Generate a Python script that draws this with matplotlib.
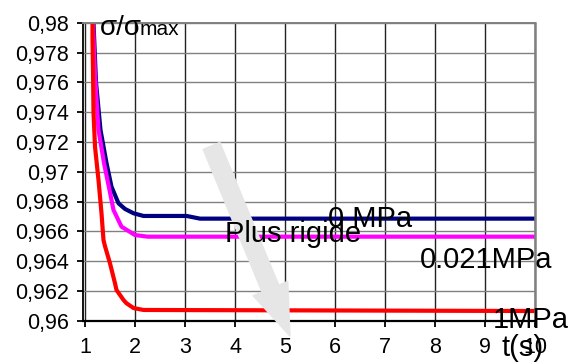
import matplotlib.pyplot as plt

plt.rcParams['font.family'] = ['Liberation Sans', 'DejaVu Sans']

# 0 MPa curve (navy)
t_0 = [1.17, 1.22, 1.31, 1.43, 1.53, 1.67, 1.8, 1.97, 2.17, 3.03, 3.3, 10]
s_0 = [0.9800, 0.9760, 0.9728, 0.97058, 0.96899, 0.96788, 0.9675, 0.96721,
       0.96703, 0.96703, 0.96685, 0.96685]

# 0.021 MPa curve (magenta)
t_021 = [1.16, 1.2, 1.27, 1.38, 1.49, 1.57, 1.73, 2.0, 2.25, 10]
s_021 = [0.9800, 0.9765, 0.9728, 0.97058, 0.96877, 0.96743, 0.96631, 0.96575,
         0.96564, 0.96564]

# 1 MPa curve (red)
t_1 = [1.15, 1.15, 1.16, 1.17, 1.2, 1.27, 1.33, 1.37, 1.4, 1.5, 1.6, 1.63,
       1.77, 1.83, 1.97, 2.17, 10]
s_1 = [0.9800, 0.9790, 0.9768, 0.9740, 0.97168, 0.96944, 0.96721, 0.96541,
       0.9650, 0.96385, 0.96251, 0.96206, 0.96139, 0.96117, 0.96085, 0.96072,
       0.96065]

xticks = [1, 2, 3, 4, 5, 6, 7, 8, 9, 10]
yticks = [0.96, 0.962, 0.964, 0.966, 0.968, 0.97, 0.972, 0.974, 0.976, 0.978, 0.98]
ylabels = ['0,96', '0,962', '0,964', '0,966', '0,968', '0,97', '0,972',
           '0,974', '0,976', '0,978', '0,98']

fig = plt.figure(figsize=(5.77, 3.62), dpi=100)
ax = fig.add_axes([83 / 577, 1 - 320.7 / 362, 452 / 577, 298 / 362])

ax.plot(t_0, s_0, color='#000080', lw=3)
ax.plot(t_021, s_021, color='#ff00ff', lw=3)
ax.plot(t_1, s_1, color='#ff0000', lw=3)

ax.set_xlim(0.96, 10.0)
ax.set_ylim(0.96, 0.98)
ax.set_xticks(xticks)
ax.set_xticklabels([str(v) for v in xticks])
ax.set_yticks(yticks)
ax.set_yticklabels(ylabels)

ax.set_axisbelow(True)
ax.grid(axis='y', color='#808080', lw=1)
ax.grid(axis='x', color='#222222', lw=1)

ax.spines['left'].set_color('black')
ax.spines['left'].set_linewidth(1.3)
ax.spines['bottom'].set_color('black')
ax.spines['bottom'].set_linewidth(1.6)
ax.spines['top'].set_color('#808080')
ax.spines['top'].set_linewidth(1.4)
ax.spines['right'].set_color('#808080')
ax.spines['right'].set_linewidth(1.8)

ax.tick_params(axis='x', direction='out', length=4, width=1.3, pad=8,
               labelsize=15.5, colors='black')
ax.tick_params(axis='y', direction='out', length=4, width=1.3, pad=6,
               labelsize=15.5, colors='black')

# big grey arrow
ax.annotate('', xy=(5.1, 0.95897), xytext=(3.53, 0.97173),
            arrowprops=dict(arrowstyle='simple,head_length=3.7,head_width=2.7,tail_width=1.3',
                            color='#e6e6e6', mutation_scale=10, shrinkA=0, shrinkB=0),
            annotation_clip=False, zorder=4)

ax.text(1.3, 0.97917, 'σ/σ', fontsize=20, clip_on=False, zorder=6)
ax.text(2.1, 0.97917, 'max', fontsize=15, clip_on=False, zorder=6)
ax.text(5.86, 0.96629, '0 MPa', fontsize=21, clip_on=False, zorder=6)
ax.text(3.8, 0.96528, 'Plus rigide', fontsize=21, clip_on=False, zorder=6)
ax.text(7.7, 0.96354, '0.021MPa', fontsize=21, clip_on=False, zorder=6)
ax.text(9.16, 0.95951, '1MPa', fontsize=21, clip_on=False, zorder=6)
ax.text(9.34, 0.95763, 't(s)', fontsize=21, clip_on=False, zorder=6)

fig.savefig('out.png', dpi=100)
